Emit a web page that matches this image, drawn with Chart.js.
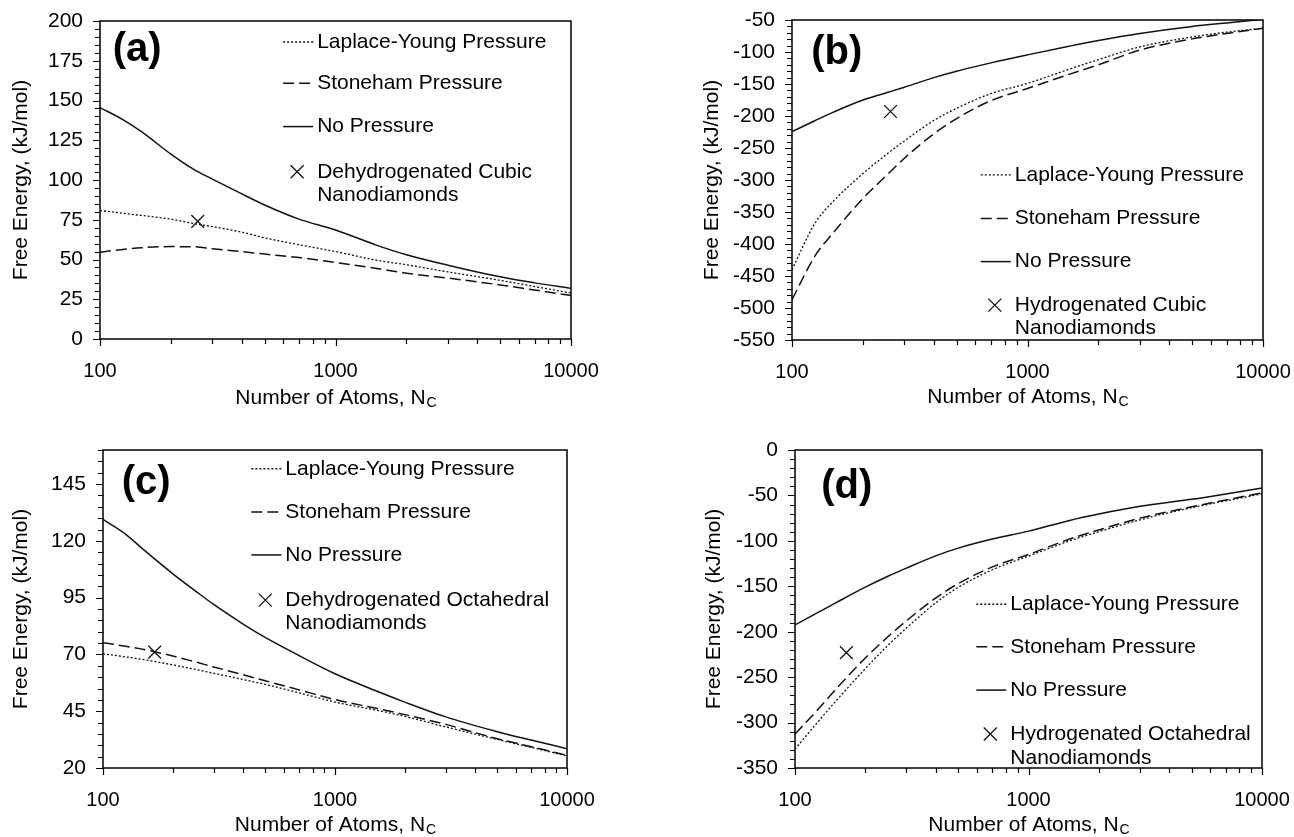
<!DOCTYPE html>
<html lang="en">
<head>
  <meta charset="UTF-8">
  <title>Free energy of nanodiamonds</title>
  <style>
    body {
      margin: 0;
      background: #fff;
      width: 1294px;
      height: 837px;
      overflow: hidden;
      position: relative;
    }
    .panel { position: absolute; }
  </style>
</head>
<body>
  <div class="panel" style="left:0;top:0"><canvas id="chartA" width="647" height="418"></canvas></div>
  <div class="panel" style="left:690px;top:0"><canvas id="chartB" width="604" height="418"></canvas></div>
  <div class="panel" style="left:0;top:418px"><canvas id="chartC" width="647" height="419"></canvas></div>
  <div class="panel" style="left:690px;top:418px"><canvas id="chartD" width="604" height="419"></canvas></div>

  <script src="https://cdn.jsdelivr.net/npm/chart.js"></script>
  <script>
    // number of carbon atoms (x, log axis)
    const atoms = [100, 125, 150, 200, 250, 300, 400, 500, 700, 1000, 1500, 2000, 3000, 5000, 7000, 10000];
    const xTicks = [100, 1000, 10000];

    // (a) dehydrogenated cubic
    const laplaceA  = [80.8, 79.1, 77.7, 75.4, 72.6, 70.7, 67.2, 63.6, 59.3, 55, 49.5, 46.7, 42.2, 36.9, 33, 28.9];
    const stonehamA = [54.6, 56.3, 57.4, 58.1, 58, 56.8, 55, 53.4, 51.2, 48.1, 44.3, 41.4, 38.3, 34, 30.8, 27.4];
    const noPressA  = [145.5, 138, 130.4, 116.3, 106.7, 100.6, 91.3, 84.3, 75.4, 68.6, 58.9, 53, 46.4, 39.1, 35.3, 31.8];
    const yTicksA = [0, 25, 50, 75, 100, 125, 150, 175, 200];

    // (b) hydrogenated cubic
    const laplaceB  = [-440, -368, -333, -290, -261, -239, -207, -188, -165, -149, -127, -112, -92, -76.5, -69, -63];
    const stonehamB = [-487, -419, -382, -329, -294, -266, -228, -204, -176, -157, -135, -120, -97, -79.5, -71, -63];
    const noPressB  = [-224.5, -207.5, -194, -175, -164, -155, -140, -130, -117, -104.5, -91, -82, -71, -60, -54.5, -49];
    const yTicksB = [-550, -500, -450, -400, -350, -300, -250, -200, -150, -100, -50];

    // (c) dehydrogenated octahedral
    const laplaceC  = [70.3, 68.9, 67.7, 65.4, 63.4, 61.7, 59, 56.8, 53.1, 49, 45.5, 42.7, 38.1, 32.6, 29.1, 25.3];
    const stonehamC = [75.2, 73.6, 72.2, 69.3, 66.7, 64.5, 61.1, 58.4, 54.4, 50.1, 46.3, 43.5, 39.2, 32.9, 29.4, 25.6];
    const noPressC  = [129.5, 123, 116, 105.5, 98, 92, 83.5, 77.5, 69.5, 61.5, 54, 49, 42.5, 36, 32.3, 28.5];
    const yTicksC = [20, 45, 70, 95, 120, 145];

    // (d) hydrogenated octahedral
    const laplaceD  = [-329.2, -299.6, -276, -240.7, -215, -196, -168.3, -151.2, -131.8, -116.8, -100, -90, -76.8, -63.5, -56, -48.3];
    const stonehamD = [-312.7, -286, -263, -229, -205.5, -188, -163, -147, -128.7, -115, -98, -88, -75, -62.5, -55, -47.2];
    const noPressD  = [-192.5, -179, -168, -151, -139, -130, -116.5, -108, -98, -89.3, -77.5, -70.5, -62, -54.3, -48.4, -41.7];
    const yTicksD = [-350, -300, -250, -200, -150, -100, -50, 0];

    // single computed clusters (the x marks)
    const markAtoms  = [260, 262, 167, 166];
    const markEnergy = [74, -193, 71, -223];

    const FONT = 'Arial, "Liberation Sans", sans-serif';
    const INK = '#111';

    const panels = [
      { id: 'chartA', tag: '(a)', tagAt: [0.079, 0.091], ticks: yTicksA, minor: 5,
        lines: [laplaceA, stonehamA, noPressA], mark: 0, markText: ['Dehydrogenated Cubic', 'Nanodiamonds'],
        pad: { top: 21, right: 76 }, yw: 100, xh: 79, tPad: 9, xTitle: 59,
        legX: 0.461, legY: [0.066, 0.196, 0.332, 0.474, 0.547] },
      { id: 'chartB', tag: '(b)', tagAt: [0.095, 0.104], ticks: yTicksB, minor: 10,
        lines: [laplaceB, stonehamB, noPressB], mark: 1, markText: ['Hydrogenated Cubic', 'Nanodiamonds'],
        pad: { top: 20, right: 31 }, yw: 102, xh: 78, tPad: 10, xTitle: 57,
        legX: 0.473, legY: [0.484, 0.620, 0.755, 0.891, 0.964] },
      { id: 'chartC', tag: '(c)', tagAt: [0.093, 0.104], ticks: yTicksC, minor: 5, yMax: 160,
        lines: [laplaceC, stonehamC, noPressC], mark: 2, markText: ['Dehydrogenated Octahedral', 'Nanodiamonds'],
        pad: { top: 32, right: 80 }, yw: 103, xh: 69, tPad: 9, xTitle: 57,
        legX: 0.393, legY: [0.059, 0.195, 0.330, 0.472, 0.545] },
      { id: 'chartD', tag: '(d)', tagAt: [0.111, 0.116], ticks: yTicksD, minor: 10,
        lines: [laplaceD, stonehamD, noPressD], mark: 3, markText: ['Hydrogenated Octahedral', 'Nanodiamonds'],
        pad: { top: 32, right: 32 }, yw: 105, xh: 69, tPad: 12, xTitle: 57,
        legX: 0.461, legY: [0.485, 0.619, 0.755, 0.893, 0.969] }
    ];

    const styles = [
      { label: 'Laplace-Young Pressure', dash: [2, 2], width: 1.3 },
      { label: 'Stoneham Pressure', dash: [11, 5], width: 1.5 },
      { label: 'No Pressure', dash: [], width: 1.5 }
    ];

    function cross(ctx, x, y, r) {
      ctx.beginPath();
      ctx.moveTo(x - r, y - r); ctx.lineTo(x + r, y + r);
      ctx.moveTo(x - r, y + r); ctx.lineTo(x + r, y - r);
      ctx.stroke();
    }

    // box, tick marks, panel letter, legend and x title
    const decor = {
      id: 'decor',
      afterDraw(chart, args, o) {
        const { ctx, chartArea: a, scales: { x, y } } = chart;
        ctx.save();
        ctx.strokeStyle = '#000';
        ctx.lineWidth = 1.5;
        ctx.strokeRect(a.left, a.top, a.right - a.left, a.bottom - a.top);

        ctx.lineWidth = 1.2;
        ctx.beginPath();
        const n = Math.round((y.max - y.min) / o.minor);
        for (let i = 0; i <= n; i++) {
          const v = y.min + i * o.minor;
          const len = o.ticks.includes(v) ? 7 : 5;
          const py = Math.round(y.getPixelForValue(v)) + 0.5;
          ctx.moveTo(a.left - len, py); ctx.lineTo(a.left, py);
        }
        for (let d = 100; d <= 10000; d *= 10) {
          for (let k = 1; k <= (d === 10000 ? 1 : 9); k++) {
            const px = Math.round(x.getPixelForValue(k * d)) + 0.5;
            const len = k === 1 ? 7 : 5;
            ctx.moveTo(px, a.bottom); ctx.lineTo(px, a.bottom + len);
          }
        }
        ctx.stroke();

        const w = a.right - a.left, h = a.bottom - a.top;
        ctx.fillStyle = '#000';
        ctx.textBaseline = 'middle';
        ctx.textAlign = 'center';
        ctx.font = 'bold 40px ' + FONT;
        ctx.fillText(o.tag, a.left + o.tagAt[0] * w, a.top + o.tagAt[1] * h);

        const tx = a.left + o.legX * w;
        ctx.textAlign = 'left';
        ctx.font = '21px ' + FONT;
        ctx.strokeStyle = INK;
        styles.forEach((s, i) => {
          const ly = a.top + o.legY[i] * h;
          ctx.lineWidth = s.width;
          ctx.setLineDash(s.dash);
          ctx.beginPath();
          ctx.moveTo(tx - 34, ly); ctx.lineTo(tx - 4, ly);
          ctx.stroke();
          ctx.fillText(s.label, tx, ly);
        });
        ctx.setLineDash([]);
        ctx.lineWidth = 1.3;
        cross(ctx, tx - 20, a.top + o.legY[3] * h, 6.5);
        ctx.fillText(o.markText[0], tx, a.top + o.legY[3] * h);
        ctx.fillText(o.markText[1], tx, a.top + o.legY[4] * h);

        // x axis title with subscript C
        const main = 'Number of Atoms, N';
        ctx.font = '21px ' + FONT;
        const w1 = ctx.measureText(main).width;
        ctx.font = '14px ' + FONT;
        const w2 = ctx.measureText('C').width;
        const x0 = (a.left + a.right) / 2 - (w1 + w2) / 2;
        const ty = a.bottom + o.xTitle;
        ctx.font = '21px ' + FONT;
        ctx.fillText(main, x0, ty);
        ctx.font = '14px ' + FONT;
        ctx.fillText('C', x0 + w1 + 1, ty + 5);
        ctx.restore();
      }
    };

    panels.forEach(p => {
      const pts = vals => atoms.map((n, i) => ({ x: n, y: vals[i] }));
      const datasets = p.lines.map((vals, i) => ({
        label: styles[i].label,
        data: pts(vals),
        borderColor: INK,
        borderWidth: styles[i].width,
        borderDash: styles[i].dash,
        pointRadius: 0,
        cubicInterpolationMode: 'monotone',
        fill: false
      }));
      datasets.push({
        label: p.markText.join(' '),
        data: [{ x: markAtoms[p.mark], y: markEnergy[p.mark] }],
        showLine: false,
        pointStyle: 'crossRot',
        pointRadius: 9,
        borderColor: INK,
        borderWidth: 1.3
      });

      new Chart(document.getElementById(p.id), {
        type: 'line',
        data: { datasets },
        options: {
          responsive: false,
          animation: false,
          layout: { padding: { top: p.pad.top, right: p.pad.right, left: 0, bottom: 0 } },
          plugins: {
            legend: { display: false },
            tooltip: { enabled: false },
            decor: { tag: p.tag, tagAt: p.tagAt, ticks: p.ticks, minor: p.minor, legX: p.legX, legY: p.legY,
                     markText: p.markText, xTitle: p.xTitle }
          },
          scales: {
            x: {
              type: 'logarithmic',
              min: 100,
              max: 10000,
              afterBuildTicks: s => { s.ticks = xTicks.map(v => ({ value: v })); },
              afterFit: s => { s.height = p.xh; s.paddingLeft = 0; s.paddingRight = 0; },
              grid: { display: false, drawTicks: false },
              border: { display: false },
              ticks: { callback: v => String(v), color: '#000', font: { family: FONT, size: 20 },
                       padding: 20, maxRotation: 0, autoSkip: false }
            },
            y: {
              min: p.ticks[0],
              max: p.yMax !== undefined ? p.yMax : p.ticks[p.ticks.length - 1],
              afterBuildTicks: s => { s.ticks = p.ticks.map(v => ({ value: v })); },
              afterFit: s => { s.width = p.yw; s.paddingTop = 0; s.paddingBottom = 0; },
              grid: { display: false, drawTicks: false },
              border: { display: false },
              title: { display: true, text: 'Free Energy, (kJ/mol)', color: '#000',
                       font: { family: FONT, size: 21 }, padding: { top: p.tPad, bottom: 0 } },
              ticks: { callback: v => String(v), color: '#000', font: { family: FONT, size: 21 }, padding: 17 }
            }
          }
        },
        plugins: [decor]
      });
    });
  </script>
</body>
</html>
